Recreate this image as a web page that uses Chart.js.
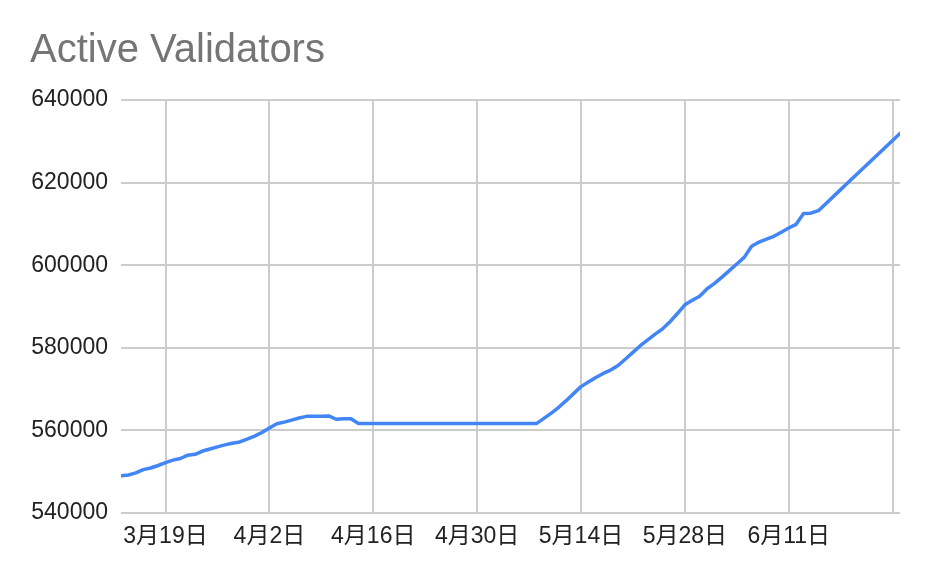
<!DOCTYPE html>
<html>
<head>
<meta charset="utf-8">
<script src="https://cdn.jsdelivr.net/npm/chart.js@4"></script>
<style>
  html, body { margin: 0; padding: 0; background: #fff; }
  #wrap { width: 930px; height: 577px; position: relative; }
</style>
</head>
<body>
<div id="wrap"><canvas id="c" width="930" height="577"></canvas></div>
<script>
// ---- data ----
const chartTitle = 'Active Validators';
const startDate = '2023-03-13';           // first daily sample
const validators = [
  549000, 549200, 549700, 550500, 550900, 551500, 552200, 552800, 553200, 554000,
  554200, 555000, 555500, 556000, 556500, 556900, 557200, 557900, 558600, 559500,
  560600, 561600, 562000, 562500, 563000, 563400, 563400, 563400, 563500, 562700,
  562800, 562800, 561650, 561650, 561650, 561650, 561650, 561650, 561650, 561650,
  561650, 561650, 561650, 561650, 561650, 561650, 561650, 561650, 561650, 561650,
  561650, 561650, 561650, 561650, 561650, 561650, 561650, 562900, 564200, 565600,
  567200, 568900, 570600, 571700, 572800, 573800, 574600, 575700, 577300, 578900,
  580500, 581900, 583300, 584600, 586300, 588300, 590400, 591500, 592500, 594300,
  595600, 597100, 598700, 600300, 601900, 604600, 605600, 606300, 607000, 608000,
  609000, 609900, 612500, 612600, 613200, 614900, 616600, 618300, 620000, 621700,
  623400, 625100, 626800, 628500, 630200, 631900
];
const xTickDates  = ['2023-03-19', '2023-04-02', '2023-04-16', '2023-04-30', '2023-05-14', '2023-05-28', '2023-06-11', '2023-06-25'];
const xTickLabels = ['3月19日', '4月2日', '4月16日', '4月30日', '5月14日', '5月28日', '6月11日', ''];
const yTicks = [540000, 560000, 580000, 600000, 620000, 640000];

// ---- build ----
const DAY = 86400000;
const t0 = Date.parse(startDate + 'T00:00:00Z');
const dayOf = s => (Date.parse(s + 'T00:00:00Z') - t0) / DAY;
const points = validators.map((v, i) => ({ x: i, y: v }));
const xTickPos = xTickDates.map(dayOf);

const FONT = "'Liberation Sans', Arial, 'Noto Sans CJK JP', sans-serif";

new Chart(document.getElementById('c'), {
  type: 'line',
  data: {
    datasets: [{
      data: points,
      borderColor: '#4285f4',
      borderWidth: 3.5,
      pointRadius: 0,
      tension: 0,
      fill: false,
      borderJoinStyle: 'round',
      borderCapStyle: 'round'
    }]
  },
  options: {
    responsive: false,
    animation: false,
    layout: { padding: { left: 30, right: 30, top: 0, bottom: 0 } },
    plugins: {
      legend: { display: false },
      tooltip: { enabled: false },
      title: {
        display: true,
        text: chartTitle,
        align: 'start',
        color: '#757575',
        font: { family: FONT, size: 40, weight: 'normal', lineHeight: 1.2 },
        padding: { top: 27, bottom: 25 }
      }
    },
    scales: {
      x: {
        type: 'linear',
        min: 0,
        max: validators.length - 1,
        afterFit: s => { s.height = 64; },
        afterBuildTicks: s => { s.ticks = xTickPos.map(v => ({ value: v })); },
        ticks: {
          autoSkip: false,
          maxRotation: 0,
          padding: 10,
          color: '#222222',
          font: { family: FONT, size: 23 },
          callback: (v, i) => xTickLabels[i]
        },
        grid: { color: '#cccccc', lineWidth: 2, drawTicks: false },
        border: { display: false }
      },
      y: {
        min: yTicks[0],
        max: yTicks[yTicks.length - 1],
        afterFit: s => { s.width = 91; },
        afterBuildTicks: s => { s.ticks = yTicks.map(v => ({ value: v })); },
        ticks: {
          padding: 13,
          color: '#222222',
          font: { family: FONT, size: 23 },
          callback: v => String(v)
        },
        grid: { color: '#cccccc', lineWidth: 2, drawTicks: false },
        border: { display: false }
      }
    }
  }
});
</script>
</body>
</html>
